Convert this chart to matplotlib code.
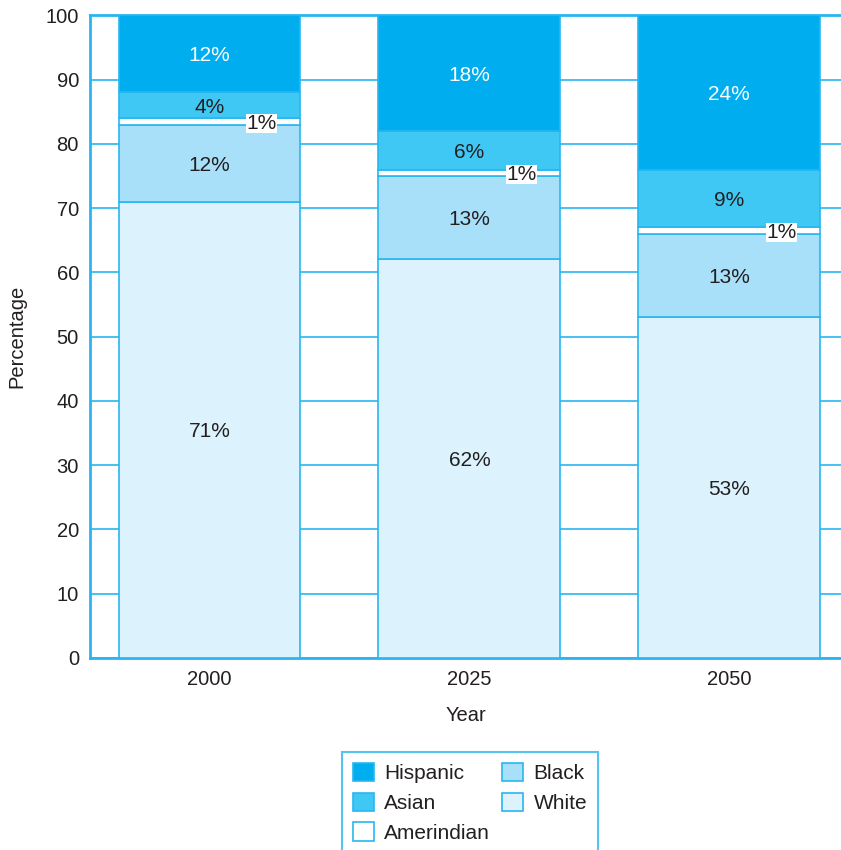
import numpy as np
import matplotlib.pyplot as plt

plt.rcParams['font.family'] = ['Liberation Sans', 'DejaVu Sans']

years = ['2000', '2025', '2050']
groups = ['White', 'Black', 'Amerindian', 'Asian', 'Hispanic']
white = [71, 62, 53]
black = [12, 13, 13]
amerindian = [1, 1, 1]
asian = [4, 6, 9]
hispanic = [12, 18, 24]

colors = {
    'White': '#dcf2fc',
    'Black': '#a8e0f9',
    'Amerindian': '#ffffff',
    'Asian': '#40c8f4',
    'Hispanic': '#00aeef',
}
edge = '#29b6f0'
txt = '#231f20'

fig = plt.figure(figsize=(8.41, 8.5), dpi=100)
ax = fig.add_axes([0.107, 0.226, 0.893, 0.756])

x = np.arange(len(years))
width = 0.70
bottom = np.zeros(len(years))
handles = {}
for name, vals in zip(groups, [white, black, amerindian, asian, hispanic]):
    vals = np.array(vals, dtype=float)
    bars = ax.bar(x, vals, width, bottom=bottom, color=colors[name],
                  edgecolor=edge, linewidth=1.2, zorder=3, label=name)
    handles[name] = bars
    for xi, b, v in zip(x, bottom, vals):
        label = f'{int(v)}%'
        if name == 'Amerindian':
            ax.text(xi + 0.2, b + v / 2 - 0.3, label, ha='center', va='center',
                    fontsize=15, color=txt, zorder=5,
                    bbox=dict(facecolor='white', edgecolor='none', pad=0.2))
        else:
            ax.text(xi, b + v / 2 - 0.3, label, ha='center', va='center',
                    fontsize=15, color='white' if name == 'Hispanic' else txt,
                    zorder=5)
    bottom += vals

ax.set_xlim(-0.46, 2.43)
ax.set_ylim(0, 100)
ax.set_yticks(range(0, 101, 10))
ax.set_xticks(x)
ax.set_xticklabels(years)
ax.yaxis.grid(True, color=edge, linewidth=1.2, zorder=0)
ax.tick_params(axis='both', length=0, labelsize=14.5, colors=txt, pad=8)
ax.tick_params(axis='x', pad=9)

for side in ['left', 'bottom', 'top']:
    ax.spines[side].set_color(edge)
    ax.spines[side].set_linewidth(2)
ax.spines['right'].set_visible(False)

ax.set_xlabel('Year', fontsize=14.5, color=txt, labelpad=12)
ax.set_ylabel('Percentage', fontsize=14.5, color=txt, labelpad=14)

order = ['Hispanic', 'Asian', 'Amerindian', 'Black', 'White']
leg = fig.legend([handles[n] for n in order], order, loc='upper center',
                 bbox_to_anchor=(0.559, 0.115), borderaxespad=0, ncol=2,
                 fontsize=15, frameon=True, fancybox=False, edgecolor=edge,
                 handlelength=1.0, handleheight=1.0, handletextpad=0.5,
                 columnspacing=0.6, labelspacing=0.45, borderpad=0.5)
leg.get_frame().set_linewidth(1.5)
for t in leg.get_texts():
    t.set_color(txt)

fig.savefig('out.png', dpi=100)
